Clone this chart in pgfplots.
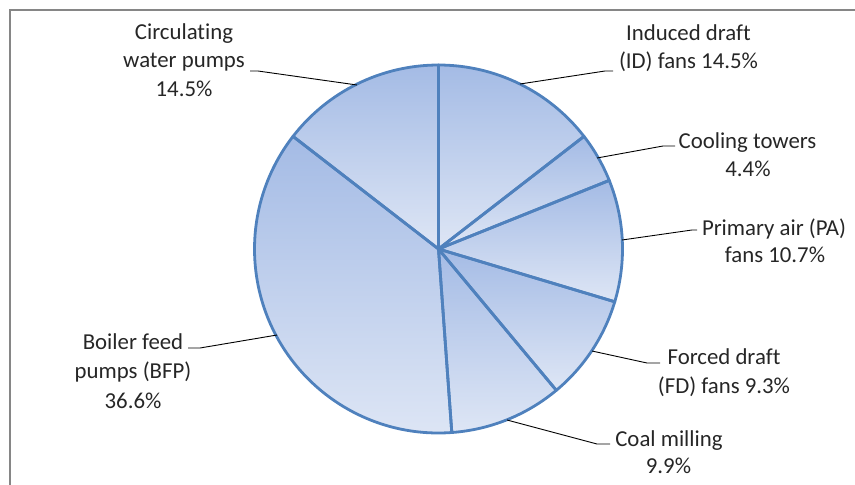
\documentclass[border=0pt]{standalone}
\usepackage{pgfplots}
\pgfplotsset{compat=1.18}
\usepackage{pgfplotstable}
\usepackage{fontspec}
\setmainfont{Carlito}[Ligatures=NoCommon]
\definecolor{pietop}{RGB}{164,187,229}
\definecolor{piebot}{RGB}{222,230,245}
\definecolor{pieedge}{RGB}{79,129,189}
\definecolor{framegray}{RGB}{134,134,134}

\pgfplotstableread{
label pct
ID 14.5
CT 4.4
PA 10.7
FD 9.3
CM 9.9
BFP 36.6
CW 14.5
}\piedata

\newcommand\piewedges[1]{%
  \gdef\cumv{0}%
  \foreach \i in {0,...,6}{%
    \pgfplotstablegetelem{\i}{pct}\of\piedata
    \edef\pv{\pgfplotsretval}%
    \pgfmathsetmacro\sa{90-\cumv*3.6036036}%
    \pgfmathsetmacro\newcum{\cumv+\pv}%
    \xdef\cumv{\newcum}%
    \pgfmathsetmacro\ea{90-\cumv*3.6036036}%
    #1 (axis cs:438.5,249) -- ++(canvas polar cs:angle=\sa,radius=184pt)
      arc[start angle=\sa, end angle=\ea, radius=184pt] -- cycle;
  }%
}

\begin{document}
\begin{tikzpicture}
\begin{axis}[
  scale only axis, width=855pt, height=485pt,
  xmin=0, xmax=855, ymin=0, ymax=485, y dir=reverse,
  axis lines=none, clip=false,
]
\pgfplotsextra{
  \piewedges{\shade[top color=pietop, bottom color=piebot]}
  \piewedges{\draw[pieedge, line width=2.8pt, line join=round]}
  % frame
  \draw[framegray, line width=2pt] (axis cs:9.5,490) -- (axis cs:9.5,9.5) -- (axis cs:860,9.5);
  % leader lines
  \begin{scope}[black, line width=0.9pt]
    \draw (axis cs:357,85) -- (axis cs:258,71) -- (axis cs:250,71);
    \draw (axis cs:520,84) -- (axis cs:605,71) -- (axis cs:613,71);
    \draw (axis cs:597,158) -- (axis cs:663,146) -- (axis cs:675,146);
    \draw (axis cs:622,240) -- (axis cs:692,230) -- (axis cs:697,230);
    \draw (axis cs:592,351) -- (axis cs:647,363) -- (axis cs:660,363);
    \draw (axis cs:507,420) -- (axis cs:597,444) -- (axis cs:610,444);
    \draw (axis cs:277,335) -- (axis cs:200,348) -- (axis cs:188,348);
  \end{scope}
  % labels
  \begin{scope}[every node/.style={anchor=base, inner sep=0pt, font=\fontsize{22.8}{28}\selectfont, text=black!85}]
    \node at (axis cs:184,39) {Circulating};
    \node at (axis cs:184,67.5) {water pumps};
    \node at (axis cs:184,96) {14.5\%};
    \node at (axis cs:688.5,40) {Induced draft};
    \node at (axis cs:688.5,68.5) {(ID) fans 14.5\%};
    \node at (axis cs:747.5,148) {Cooling towers};
    \node at (axis cs:748,176) {4.4\%};
    \node at (axis cs:774,235) {Primary air (PA)};
    \node at (axis cs:775,262) {fans 10.7\%};
    \node at (axis cs:724,364) {Forced draft};
    \node at (axis cs:724,393) {(FD) fans 9.3\%};
    \node at (axis cs:669,446) {Coal milling};
    \node at (axis cs:668.5,473.5) {9.9\%};
    \node at (axis cs:133,349) {Boiler feed};
    \node at (axis cs:133,378) {pumps (BFP)};
    \node at (axis cs:133,408) {36.6\%};
  \end{scope}
}
\end{axis}
\pgfresetboundingbox
\path (0,0) rectangle (855pt,485pt);
\end{tikzpicture}
\end{document}
